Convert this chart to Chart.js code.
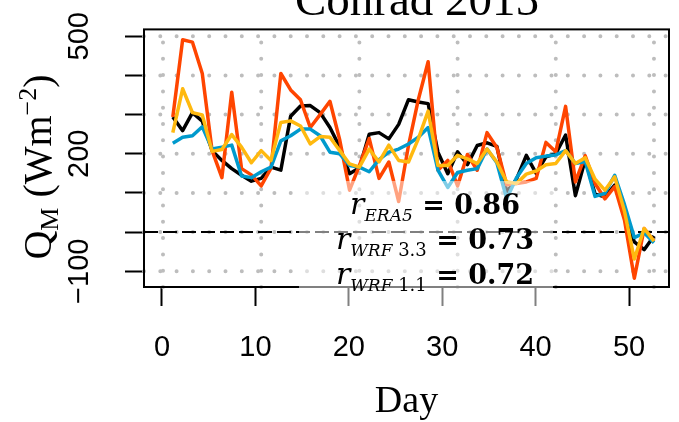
<!DOCTYPE html>
<html>
<head>
<meta charset="utf-8">
<script src="https://cdn.jsdelivr.net/npm/chart.js@4.4.0/dist/chart.umd.min.js"></script>
<style>
  html, body { margin: 0; padding: 0; background: #fff; }
  #wrap { width: 679px; height: 422px; }
</style>
</head>
<body>
<div id="wrap"><canvas id="qmChart" width="679" height="422"></canvas></div>
<script>
// daily values, Q_M in W m-2
const days = [1,2,3,4,5,6,7,8,9,10,11,12,13,14,15,16,17,18,19,20,21,22,23,24,25,
              26,27,28,29,30,31,32,33,34,35,36,37,38,39,40,41,42,43,44,45,46,47,48,49,50];
const obs = [294,259,305,283,208,183,162,145,130,137,166,158,296,322,323,305,267,217,149,164,
             250,254,238,275,338,332,328,204,149,205,172,221,228,219,103,135,196,150,192,200,
             248,93,185,97,90,120,45,-25,-45,-10];
const wrf33 = [294,491,485,405,208,139,357,162,146,118,163,405,363,338,267,300,334,235,107,170,
               239,137,179,78,221,338,435,158,183,118,198,158,254,216,121,124,128,137,229,205,
               321,128,195,124,85,116,30,-118,9,-23];
const wrf11 = [254,366,305,299,206,211,249,217,177,208,183,280,284,271,225,244,242,208,174,166,
               212,179,222,183,179,238,309,170,170,196,187,175,212,179,128,124,148,156,172,175,
               208,175,190,135,107,141,53,-69,9,-23];
const era5 = [227,242,246,269,212,217,222,143,139,154,166,233,246,263,263,246,204,200,170,166,
              154,185,204,212,225,242,267,158,114,152,158,162,212,177,85,139,175,190,194,197,
              208,175,180,91,99,145,70,-14,-2,-27];

const xTicks = [0, 10, 20, 30, 40, 50];
const gridDays = [0, 10, 20, 30, 40, 50];
const yTicks = [-100, 0, 100, 200, 300, 400, 500];
const yLabelled = [-100, 200, 500];

const rNames = [['ERA5', ''], ['WRF', ' 3.3'], ['WRF', ' 1.1']];
const rValues = ['0.86', '0.73', '0.72'];

function toPoints(vals) {
    return days.map((d, i) => ({ x: d, y: vals[i] }));
}

function drawRich(ctx, parts, cx, baseY) {
    let w = 0;
    parts.forEach(p => { ctx.font = p.font; p.w = ctx.measureText(p.text).width; w += p.w; });
    let x = cx - w / 2;
    parts.forEach(p => {
        ctx.font = p.font;
        ctx.fillText(p.text, x, baseY + (p.dy || 0));
        x += p.w;
    });
}

const framePlugin = {
    id: 'frame',
    beforeDatasetsDraw(chart) {
        const { ctx, chartArea: a, scales } = chart;
        ctx.save();
        // dotted grid
        ctx.strokeStyle = '#bdbdbd';
        ctx.lineWidth = 4;
        ctx.lineCap = 'round';
        ctx.setLineDash([0, 16.3]);
        gridDays.forEach(v => {
            const px = scales.x.getPixelForValue(v);
            ctx.beginPath(); ctx.moveTo(px, a.bottom); ctx.lineTo(px, a.top); ctx.stroke();
        });
        yTicks.forEach(v => {
            const py = scales.y.getPixelForValue(v);
            ctx.beginPath(); ctx.moveTo(a.left, py); ctx.lineTo(a.right, py); ctx.stroke();
        });
        // zero line
        ctx.setLineDash([14, 5]);
        ctx.lineCap = 'butt';
        ctx.strokeStyle = '#000';
        ctx.lineWidth = 2;
        const y0 = scales.y.getPixelForValue(0);
        ctx.beginPath(); ctx.moveTo(a.left, y0); ctx.lineTo(a.right, y0); ctx.stroke();
        ctx.restore();
    },
    afterDraw(chart) {
        const { ctx, chartArea: a } = chart;
        ctx.save();
        // plot box
        ctx.strokeStyle = '#000';
        ctx.lineWidth = 2;
        ctx.strokeRect(a.left, a.top, a.right - a.left, a.bottom - a.top);

        // legend box (half transparent)
        ctx.fillStyle = 'rgba(255,255,255,0.5)';
        ctx.fillRect(299, 181, 254, 135);

        // correlation labels
        ctx.fillStyle = '#000';
        ctx.textAlign = 'left';
        ctx.textBaseline = 'alphabetic';
        const baseLines = [214, 249, 284];
        rNames.forEach((nm, i) => {
            const parts = [
                { text: 'r', font: 'italic 30px "DejaVu Serif"' },
                { text: nm[0], font: 'italic 17px "DejaVu Serif"', dy: 7 },
            ];
            if (nm[1]) parts.push({ text: nm[1], font: '18px "DejaVu Serif"', dy: 7 });
            parts.push({ text: ' = ' + rValues[i], font: 'bold 27px "DejaVu Serif"' });
            drawRich(ctx, parts, 435, baseLines[i]);
        });

        // main title
        ctx.textAlign = 'center';
        ctx.font = '47px "Liberation Serif"';
        ctx.fillText('Conrad 2015', 417, 15);
        ctx.restore();

        // y axis title
        ctx.save();
        ctx.fillStyle = '#000';
        ctx.textAlign = 'left';
        ctx.textBaseline = 'alphabetic';
        ctx.translate(51, 167);
        ctx.rotate(-Math.PI / 2);
        drawRich(ctx, [
            { text: 'Q', font: '40px "Liberation Serif"' },
            { text: 'M', font: '26px "Liberation Serif"', dy: 7 },
            { text: ' (Wm', font: '40px "Liberation Serif"' },
            { text: '\u22122', font: '26px "Liberation Serif"', dy: -15 },
            { text: ')', font: '40px "Liberation Serif"' }
        ], 0, 0);
        ctx.restore();
    }
};

const ctx1 = document.getElementById('qmChart').getContext('2d');
const chartData = {
    datasets: [
        { label: 'Observed', data: toPoints(obs), borderColor: '#000000', borderWidth: 3.5, order: 4, xAxisID: 'x', yAxisID: 'y' },
        { label: 'WRF 3.3', data: toPoints(wrf33), borderColor: '#FF4500', borderWidth: 3.5, order: 3, xAxisID: 'x', yAxisID: 'y' },
        { label: 'ERA5', data: toPoints(era5), borderColor: '#009ACD', borderWidth: 3.5, order: 2, xAxisID: 'x', yAxisID: 'y' },
        { label: 'WRF 1.1', data: toPoints(wrf11), borderColor: '#FFB90F', borderWidth: 3.5, order: 1, xAxisID: 'x', yAxisID: 'y' }
    ]
};

const myChart = new Chart(ctx1, {
    type: 'line',
    data: chartData,
    options: {
        responsive: false,
        animation: false,
        layout: { padding: { left: 0, right: 10, top: 26, bottom: 0 } },
        elements: {
            line: { tension: 0, borderJoinStyle: 'round', fill: false },
            point: { radius: 0 }
        },
        plugins: {
            legend: { display: false },
            tooltip: { enabled: false },
            title: { display: false }
        },
        scales: {
            x: { type: 'linear', display: false, min: -1.935, max: 51.53 },
            xAxis: {
                type: 'linear',
                position: 'bottom',
                min: -1.927,
                max: 54.28,
                afterBuildTicks: axis => { axis.ticks = xTicks.map(v => ({ value: v })); },
                afterFit: axis => { axis.height = 135; },
                grid: { drawOnChartArea: false, drawTicks: true, tickLength: 19, tickColor: '#000', tickWidth: 2 },
                border: { display: false },
                ticks: {
                    color: '#000',
                    font: { family: 'Liberation Sans', size: 29 },
                    padding: 25,
                    maxRotation: 0,
                    autoSkip: false
                },
                title: {
                    display: true,
                    text: 'Day',
                    color: '#000',
                    font: { family: 'Liberation Serif', size: 38, lineHeight: 1 },
                    padding: { top: 0, bottom: 1 }
                }
            },
            y: {
                type: 'linear',
                min: -140.3,
                max: 517.6,
                afterBuildTicks: axis => { axis.ticks = yTicks.map(v => ({ value: v })); },
                afterFit: axis => { axis.width = 144; },
                grid: { drawOnChartArea: false, drawTicks: true, tickLength: 19, tickColor: '#000', tickWidth: 2 },
                border: { display: false },
                ticks: {
                    color: '#000',
                    font: { family: 'Liberation Sans', size: 29 },
                    padding: 12,
                    minRotation: 90,
                    maxRotation: 90,
                    crossAlign: 'center',
                    autoSkip: false,
                    callback: v => yLabelled.includes(v) ? String(v).replace('-', '\u2212') : ''
                }
            }
        }
    },
    plugins: [framePlugin]
});
</script>
</body>
</html>
